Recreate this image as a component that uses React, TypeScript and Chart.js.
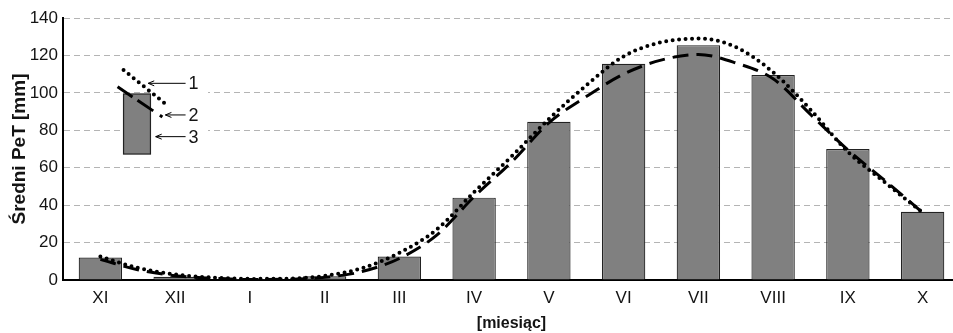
import React, { useEffect, useRef } from 'react';
import { Chart, registerables } from 'chart.js';

Chart.register(...registerables);

// ---- data ----
const months = ['XI', 'XII', 'I', 'II', 'III', 'IV', 'V', 'VI', 'VII', 'VIII', 'IX', 'X'];
const barValues = [12, 1.7, 0.6, 2, 12.5, 44, 84.5, 115.5, 125.5, 109.5, 70, 36.5];
// curve sample positions (month index, half-month steps)
const curveX = [0, 0.5, 1, 1.5, 2, 2.5, 3, 3.5, 4, 4.5, 5, 5.5, 6, 6.5, 7, 7.5, 8, 8.5, 9, 9.5, 10, 10.5, 11];
const curve1 = [12.5, 6.5, 3, 1.3, 0.6, 0.7, 2.2, 6.3, 14.5, 27, 47, 66, 86, 104, 119.5, 127, 129, 124.5, 111, 91, 68.5, 52, 36];
const curve2 = [11, 5.5, 2.3, 0.9, 0.3, 0.4, 1.4, 4.5, 11.5, 24, 44.5, 63, 84, 98, 110, 117.5, 120.5, 116, 107.5, 88.5, 69.5, 53, 36];
const yTicks = { min: 0, max: 140, step: 20 };
const legendLabels = ['1', '2', '3'];

const FONT = "'Liberation Sans', Arial, sans-serif";
const TEXT = '#141414';
const BAR_FILL = '#808080';
const BAR_EDGE = '#222222';

const insetLegend = {
  id: 'insetLegend',
  beforeDatasetsDraw(chart: any) {
    const { ctx } = chart;
    const xs = chart.scales.x;
    const ys = chart.scales.y;
    const px = (v: number) => xs.getPixelForValue(v);
    const py = (v: number) => ys.getPixelForValue(v);
    ctx.save();
    ctx.fillStyle = '#ffffff';
    ctx.fillRect(px(0.68), py(115), px(1.44) - px(0.68), py(70) - py(115));
    ctx.restore();
  },
  afterDraw(chart: any) {
    const { ctx } = chart;
    const xs = chart.scales.x;
    const ys = chart.scales.y;
    const px = (v: number) => xs.getPixelForValue(v);
    const py = (v: number) => ys.getPixelForValue(v);
    ctx.save();
    // bar sample
    const bx0 = px(0.31), bx1 = px(0.67), by0 = py(99.4), by1 = py(67.3);
    ctx.fillStyle = BAR_FILL;
    ctx.fillRect(bx0, by0, bx1 - bx0, by1 - by0);
    ctx.strokeStyle = BAR_EDGE;
    ctx.lineWidth = 1.2;
    ctx.strokeRect(bx0, by0, bx1 - bx0, by1 - by0);
    // dotted sample
    ctx.strokeStyle = '#000';
    ctx.lineWidth = 4;
    ctx.lineCap = 'round';
    ctx.setLineDash([0, 6.5]);
    ctx.beginPath();
    ctx.moveTo(px(0.31), py(112.2));
    ctx.lineTo(px(0.89), py(93.5));
    ctx.stroke();
    // dashed sample
    ctx.lineWidth = 3;
    ctx.lineCap = 'butt';
    ctx.setLineDash([18, 6, 19, 8, 3, 200]);
    ctx.beginPath();
    ctx.moveTo(px(0.23), py(103.2));
    ctx.lineTo(px(0.84), py(86.8));
    ctx.stroke();
    // arrows + labels
    ctx.setLineDash([]);
    ctx.lineWidth = 1;
    const arrows = [
      { tip: 0.64, v: 105.1 },
      { tip: 0.87, v: 88.2 },
      { tip: 0.74, v: 76.6 },
    ];
    ctx.font = `18px ${FONT}`;
    ctx.fillStyle = TEXT;
    ctx.textAlign = 'left';
    ctx.textBaseline = 'middle';
    arrows.forEach((a, i) => {
      const y = py(a.v);
      const x0 = px(a.tip);
      const x1 = px(1.14);
      ctx.beginPath();
      ctx.moveTo(x1, y);
      ctx.lineTo(x0, y);
      ctx.moveTo(x0 + 6, y - 2.5);
      ctx.lineTo(x0, y);
      ctx.lineTo(x0 + 6, y + 2.5);
      ctx.stroke();
      ctx.fillText(legendLabels[i], px(1.18), y + 1);
    });
    ctx.restore();
  },
};

export default function App() {
  const ref = useRef<HTMLCanvasElement>(null);

  useEffect(() => {
    document.body.style.margin = '0';
    document.body.style.overflow = 'hidden';
    Chart.defaults.font.family = FONT;
    const chart = new Chart(ref.current as HTMLCanvasElement, {
      type: 'bar',
      data: {
        datasets: [
          {
            type: 'line',
            data: curveX.map((x, i) => ({ x, y: curve1[i] })),
            borderColor: '#000',
            borderWidth: 4,
            borderDash: [0, 6.5],
            borderCapStyle: 'round',
            pointRadius: 0,
            fill: false,
            cubicInterpolationMode: 'monotone',
            order: 0,
          } as any,
          {
            type: 'line',
            data: curveX.map((x, i) => ({ x, y: curve2[i] })),
            borderColor: '#000',
            borderWidth: 3,
            borderDash: [16, 8],
            borderCapStyle: 'butt',
            pointRadius: 0,
            fill: false,
            cubicInterpolationMode: 'monotone',
            order: 1,
          } as any,
          {
            type: 'bar',
            data: barValues.map((y, i) => ({ x: i, y })),
            backgroundColor: BAR_FILL,
            borderColor: BAR_EDGE,
            borderWidth: 1.2,
            barPercentage: 0.58,
            categoryPercentage: 1,
            order: 2,
          } as any,
        ],
      },
      options: {
        animation: false,
        responsive: true,
        maintainAspectRatio: false,
        layout: { padding: { top: 18, right: 0, left: 0, bottom: 0 } },
        plugins: { legend: { display: false }, tooltip: { enabled: false } },
        scales: {
          x: {
            type: 'linear',
            min: -0.5,
            max: 11.5,
            offset: false,
            grid: { display: false, drawTicks: false, offset: false },
            border: { display: true, color: '#000', width: 2 },
            afterBuildTicks: (s: any) => {
              s.ticks = months.map((_, i) => ({ value: i }));
            },
            ticks: {
              autoSkip: false,
              maxRotation: 0,
              font: { size: 17, family: FONT },
              color: TEXT,
              padding: 8,
              callback: (v: any) => months[v] ?? '',
            },
            title: {
              display: true,
              text: '[miesiąc]',
              color: TEXT,
              font: { size: 16, weight: 'bold', family: FONT },
              padding: { top: 4, bottom: 0 },
            },
            afterFit: (s: any) => { s.height = 53; },
          },
          y: {
            min: yTicks.min,
            max: yTicks.max,
            ticks: { stepSize: yTicks.step, font: { size: 17, family: FONT }, color: TEXT, padding: 5 },
            grid: { color: '#b4b4b4', lineWidth: 1, drawTicks: false },
            border: { display: true, color: '#000', width: 2, dash: [6, 4] },
            title: {
              display: true,
              text: 'Średni PeT [mm]',
              color: TEXT,
              font: { size: 19, weight: 'bold', family: FONT },
              padding: { top: 8, bottom: 0 },
            },
            afterFit: (s: any) => { s.width = 63; },
          },
        },
      } as any,
      plugins: [insetLegend],
    });
    return () => chart.destroy();
  }, []);

  return (
    <div style={{ position: 'relative', width: 960, height: 333 }}>
      <canvas ref={ref} />
    </div>
  );
}
